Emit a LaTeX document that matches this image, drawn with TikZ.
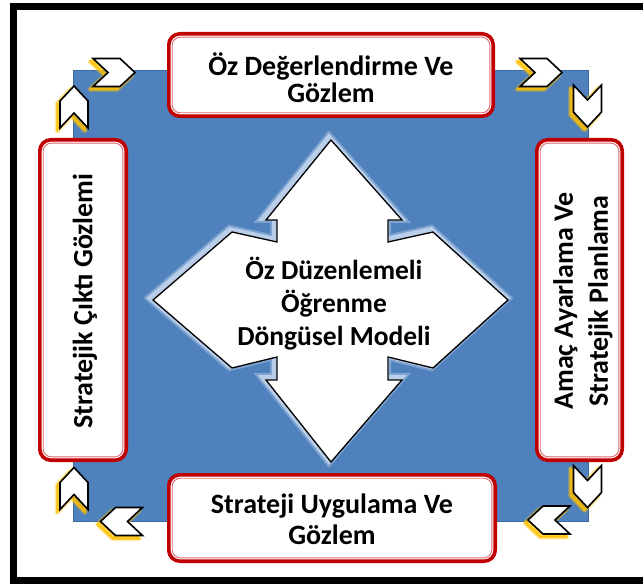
\documentclass[tikz,border=0pt]{standalone}
\usepackage{fontspec}
\setmainfont{Carlito}
\definecolor{bluebg}{HTML}{4F81BD}
\definecolor{blueedge}{HTML}{3C6A9E}
\definecolor{boxred}{HTML}{C00000}
\definecolor{boxinner}{HTML}{DC6B70}
\definecolor{chevglow}{HTML}{FFC000}
\definecolor{arrowglow}{HTML}{D3E2F5}

% one chevron: centre x, centre y, direction angle
\newcommand\chevron[3]{%
  \begin{scope}[shift={(#1,#2)}]
    \begin{scope}[shift={(-3,3)}, rotate=#3]
      \path[draw=chevglow, line width=5pt, line join=round, opacity=.3] \chevpath;
      \path[draw=chevglow, fill=chevglow, line width=2.5pt, line join=round, opacity=.7] \chevpath;
    \end{scope}
    \begin{scope}[rotate=#3]
      \path[chevbody] \chevpath;
    \end{scope}
  \end{scope}}
\newcommand\chevpath{(-21,-14) -- (6,-14) -- (21,0) -- (6,14) -- (-21,14) -- (-6,0) -- cycle}

% four-way arrow outline around (331,301)
\newcommand\crosspath{(331,140) -- (402,220) -- (388,220) -- (388,242) -- (433,232) -- (508,300)
  -- (433,368) -- (388,357) -- (388,380) -- (402,380) -- (331,462) -- (266,380) -- (277,380)
  -- (277,357) -- (232,368) -- (153,300) -- (232,232) -- (277,242) -- (277,220) -- (266,220) -- cycle}

\begin{document}
\begin{tikzpicture}[x=1pt, y=-1pt,
  box/.style={draw=boxred, line width=3.6pt, fill=white, rounded corners=11pt, inner sep=0pt,
    path picture={\draw[boxinner, line width=0.9pt, rounded corners=8pt]
      ([shift={(3.4pt,-3.4pt)}]path picture bounding box.north west) rectangle
      ([shift={(-3.4pt,3.4pt)}]path picture bounding box.south east);}},
  boxlabel/.style={align=center, inner sep=0pt, font=\fontsize{28}{27}\selectfont\bfseries},
  sidelabel/.style={align=center, inner sep=0pt, rotate=90, font=\fontsize{28}{35}\selectfont\bfseries},
  chevbody/.style={fill=white, draw=black, line width=1.6pt, line join=miter}]
\useasboundingbox (0,0) rectangle (643,585);
\clip (0,0) rectangle (643,585);

% frame
\draw[line width=7pt] (660,6.5) -- (13.5,6.5) -- (13.5,580.5) -- (660,580.5);

% blue square
\fill[bluebg, draw=blueedge, line width=0.8pt] (73,70) rectangle (588,521);

% central four-way arrow with soft glow
\begin{scope}[shift={(-2,-2)}]
  \path[draw=arrowglow, line width=10pt, line join=miter, opacity=.35] \crosspath;
  \path[draw=arrowglow, line width=6pt, line join=miter, opacity=.7] \crosspath;
\end{scope}
\path[fill=white, draw=black, line width=1.3pt, line join=miter] \crosspath;
\node[align=center, inner sep=0pt, font=\fontsize{27.5}{33}\selectfont\bfseries] (core) at (334,304)
  {Öz Düzenlemeli\\Öğrenme\\Döngüsel Modeli};

% stage boxes
\node[box, minimum width=324.4pt, minimum height=82.4pt] (stage1) at (331,75) {};
\node[boxlabel] (stage1text) at (331,78) {Öz Değerlendirme Ve\\Gözlem};
\node[box, minimum width=85.4pt, minimum height=320.4pt] (stage2) at (579.5,300) {};
\node[sidelabel] (stage2text) at (583,301) {Amaç Ayarlama Ve\\Stratejik Planlama};
\node[box, minimum width=326.4pt, minimum height=86.4pt] (stage3) at (332,518) {};
\node[boxlabel, font=\fontsize{28}{31}\selectfont\bfseries] (stage3text) at (332,519) {Strateji Uygulama Ve\\Gözlem};
\node[box, minimum width=86.4pt, minimum height=320.4pt] (stage4) at (83,300) {};
\node[sidelabel] (stage4text) at (85,301) {Stratejik Çıktı Gözlemi};

% cycle chevrons
\chevron{114}{72.5}{0}
\chevron{541}{72.5}{0}
\chevron{587.5}{106}{-90}
\chevron{587.5}{486.5}{-90}
\chevron{549}{520}{180}
\chevron{121.5}{521.5}{180}
\chevron{74}{488.5}{90}
\chevron{74}{107}{90}
\end{tikzpicture}
\end{document}
